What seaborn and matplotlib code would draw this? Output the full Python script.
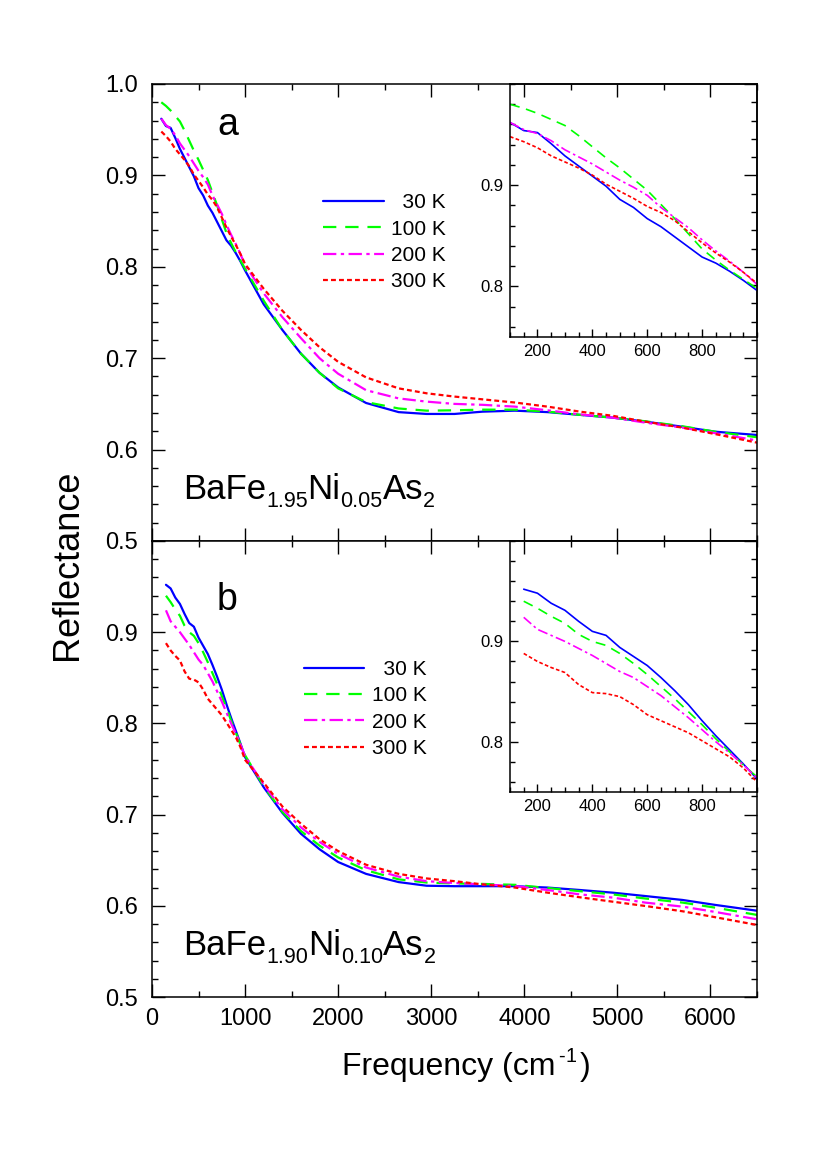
import numpy as np
import pandas as pd
import seaborn as sns
import matplotlib.pyplot as plt
from matplotlib.ticker import MultipleLocator
from matplotlib.transforms import offset_copy

# ---- data ----
TEMPS = ["  30 K", "100 K", "200 K", "300 K"]
COLORS = ["#0000ff", "#00ff00", "#ff00ff", "#ff0000"]
STYLES = ["-", (0, (6, 4)), (0, (6, 2, 1.5, 2)), (0, (2.2, 1.4))]

FREQ_LOW_A = [100, 150, 200, 250, 300, 350, 400, 450, 500, 550,
              600, 650, 700, 750, 800, 850, 900, 950, 1000]
FREQ_LOW_B = [150, 200, 250, 300, 350, 400, 450, 500, 550,
              600, 650, 700, 750, 800, 850, 900, 950, 1000]
FREQ_HIGH = [1200, 1400, 1600, 1800, 2000, 2300, 2650, 2950, 3250,
             3550, 3900, 4250, 4600, 4950, 5300, 5700, 6050, 6500]

# panel a: BaFe1.95Ni0.05As2
A30_LOW = [.962, .954, .952, .941, .929, .919, .909, .899, .886, .878,
           .867, .859, .849, .839, .829, .823, .815, .806, .796]
A100_LOW = [.980, .976, .971, .965, .959, .949, .938, .927, .917, .906,
            .895, .881, .867, .852, .837, .826, .816, .807, .798]
A200_LOW = [.962, .955, .951, .944, .935, .928, .921, .913, .905, .898,
            .890, .878, .868, .858, .846, .835, .825, .814, .802]
A300_LOW = [.948, .943, .937, .929, .923, .917, .910, .901, .894, .887,
            .879, .873, .865, .854, .843, .833, .824, .814, .803]
A30_HIGH = [.759, .731, .705, .684, .668, .651, .641, .639, .639,
            .6415, .6426, .641, .638, .635, .6306, .625, .6196, .616]
A100_HIGH = [.763, .731, .705, .684, .667, .652, .645, .6426, .643,
             .6437, .6437, .6415, .638, .635, .631, .6255, .6196, .6135]
A200_HIGH = [.771, .745, .722, .700, .683, .665, .656, .6525, .650,
             .649, .647, .643, .6385, .635, .6295, .624, .618, .610]
A300_HIGH = [.776, .752, .731, .712, .696, .679, .667, .6616, .658,
             .655, .6515, .647, .6415, .637, .6306, .624, .617, .6076]

# panel b: BaFe1.90Ni0.10As2
B30_LOW = [.952, .948, .938, .931, .920, .910, .906, .894, .885,
           .876, .864, .851, .837, .821, .806, .792, .778, .763]
B100_LOW = [.940, .933, .925, .918, .907, .900, .896, .888, .878,
            .867, .855, .843, .830, .817, .803, .790, .777, .765]
B200_LOW = [.924, .912, .906, .900, .893, .886, .878, .870, .864,
            .855, .846, .835, .824, .812, .800, .789, .777, .764]
B300_LOW = [.888, .880, .874, .869, .857, .849, .848, .845, .837,
            .827, .821, .815, .809, .801, .793, .785, .774, .760]
B30_HIGH = [.730, .702, .679, .662, .648, .635, .626, .622, .6215,
            .6215, .6215, .620, .6173, .6144, .6107, .6064, .601, .5946]
B100_HIGH = [.731, .703, .682, .666, .653, .639, .629, .6255, .6245,
             .624, .623, .6195, .616, .6125, .608, .6035, .598, .590]
B200_HIGH = [.733, .706, .686, .670, .657, .642, .632, .627, .625,
             .6235, .6216, .6173, .6125, .609, .6035, .5991, .5933, .5852]
B300_HIGH = [.735, .709, .690, .673, .660, .645, .635, .630, .627,
             .6235, .620, .6144, .6093, .6045, .5998, .594, .5875, .579]

MAIN_YTICKS = [0.5, 0.6, 0.7, 0.8, 0.9, 1.0]
INSET_XTICKS = [200, 400, 600, 800]
INSET_YTICKS = [0.8, 0.9]

# (text, size factor, vertical shift px, gap before px)
LABEL_A = [("BaFe", 1, 0, 0), ("1.95", 0.62, -8, 0), ("Ni", 1, 0, 0),
           ("0.05", 0.62, -8, 0), ("As", 1, 0, 0), ("2", 0.62, -8, 0)]
LABEL_B = [("BaFe", 1, 0, 0), ("1.90", 0.62, -8, 0), ("Ni", 1, 0, 0),
           ("0.10", 0.62, -8, 0), ("As", 1, 0, 0), ("2", 0.62, -8, 0)]
XLABEL = [("Frequency (cm", 1, 0, 0), ("-", 0.62, 13, 3), ("1", 0.62, 13, 0),
          (")", 1, 0, 4)]


def make_frame(freq_low, lows, highs):
    rows = []
    for t, lo, hi in zip(TEMPS, lows, highs):
        for f, r in zip(list(freq_low) + FREQ_HIGH, list(lo) + list(hi)):
            rows.append({"freq": f, "R": r, "T": t})
    return pd.DataFrame(rows)


df_a = make_frame(FREQ_LOW_A, [A30_LOW, A100_LOW, A200_LOW, A300_LOW],
                  [A30_HIGH, A100_HIGH, A200_HIGH, A300_HIGH])
df_b = make_frame(FREQ_LOW_B, [B30_LOW, B100_LOW, B200_LOW, B300_LOW],
                  [B30_HIGH, B100_HIGH, B200_HIGH, B300_HIGH])

# ---- style ----
sns.set_style("ticks", {"axes.edgecolor": "black", "text.color": "black",
                        "xtick.color": "black", "ytick.color": "black",
                        "axes.labelcolor": "black"})
plt.rcParams["font.family"] = ["Liberation Sans", "DejaVu Sans"]

fig = plt.figure(figsize=(8.3, 11.75), dpi=100)
W, H = 830, 1175
renderer = fig.canvas.get_renderer()


def px_axes(left, top, right, bottom):
    return fig.add_axes([left / W, 1 - bottom / H, (right - left) / W, (bottom - top) / H])


def chain_text(trans, x, y, parts, size):
    # place pieces one after another, each shifted by the width of the previous ones
    dx = 0
    for s, k, dy, gap in parts:
        dx += gap
        t = fig.text(x, y, s, fontsize=size * k, ha="left", va="baseline",
                     transform=offset_copy(trans, fig=fig, x=dx, y=dy, units="dots"))
        dx += t.get_window_extent(renderer).width


ax_a = px_axes(152, 84, 757, 541)
ax_b = px_axes(152, 541, 757, 997)
in_a = px_axes(510, 84, 757, 337)
in_b = px_axes(510, 541, 757, 792)


def draw(ax, df, lw=1.5):
    for t, c, ls in zip(TEMPS, COLORS, STYLES):
        sub = df[df["T"] == t]
        sns.lineplot(data=sub, x="freq", y="R", ax=ax, color=c, lw=lw,
                     linestyle=ls, label=t, legend=False, estimator=None)
    ax.set_xlabel("")
    ax.set_ylabel("")


for ax, df in [(ax_a, df_a), (ax_b, df_b)]:
    draw(ax, df, lw=1.6)
    ax.set_xlim(0, 6500)
    ax.set_ylim(0.5, 1.0)
    ax.xaxis.set_major_locator(MultipleLocator(1000))
    ax.xaxis.set_minor_locator(MultipleLocator(500))
    ax.set_yticks(MAIN_YTICKS)
    ax.yaxis.set_minor_locator(MultipleLocator(0.02))
    ax.tick_params(which="both", direction="in", top=True, right=True, width=1.0)
    ax.tick_params(which="major", length=9.5)
    ax.tick_params(which="minor", length=4.5)
    ax.tick_params(axis="y", labelsize=17, pad=10)
    ax.tick_params(axis="x", labelsize=17, pad=8)
    for s in ax.spines.values():
        s.set_linewidth(1.1)

ax_a.set_yticklabels(["%.1f" % v for v in MAIN_YTICKS])
ax_b.set_yticklabels(["%.1f" % v for v in MAIN_YTICKS[:-1]] + [""])
ax_a.tick_params(axis="x", labelbottom=False)

# insets
for ax, df in [(in_a, df_a), (in_b, df_b)]:
    draw(ax, df[df["freq"] <= 1000], lw=1.2)
    ax.set_facecolor("none")
    ax.set_xlim(100, 1000)
    ax.set_ylim(0.75, 1.0)
    ax.set_xticks(INSET_XTICKS)
    ax.xaxis.set_minor_locator(MultipleLocator(50))
    ax.set_yticks(INSET_YTICKS)
    ax.set_yticklabels(["%.1f" % v for v in INSET_YTICKS])
    ax.yaxis.set_minor_locator(MultipleLocator(0.02))
    ax.tick_params(which="both", direction="in", width=1.0, labelsize=12, pad=5)
    ax.tick_params(which="major", length=5.5)
    ax.tick_params(which="minor", length=3.5)
    for s in ax.spines.values():
        s.set_linewidth(1.1)

# legends
leg_kw = dict(frameon=False, fontsize=15, loc="upper left", borderpad=0,
              handlelength=2.9, handletextpad=0.35, labelspacing=0.35,
              borderaxespad=0)
ax_a.legend(bbox_to_anchor=(0.283, 0.761), **leg_kw)
ax_b.legend(bbox_to_anchor=(0.251, 0.739), **leg_kw)

# panel letters and sample names
ax_a.text(0.126, 0.91, "a", transform=ax_a.transAxes, fontsize=27,
          ha="center", va="center")
ax_b.text(0.124, 0.871, "b", transform=ax_b.transAxes, fontsize=27,
          ha="center", va="center")
chain_text(ax_a.transAxes, 0.051, 0.092, LABEL_A, 25)
chain_text(ax_b.transAxes, 0.051, 0.092, LABEL_B, 25)

fig.text(68 / W, 1 - 565 / H, "Reflectance", rotation=90, fontsize=26,
         ha="center", va="center")
chain_text(fig.transFigure, 342 / W, 1 - 1075 / H, XLABEL, 23)

fig.savefig("out.png", dpi=100)
